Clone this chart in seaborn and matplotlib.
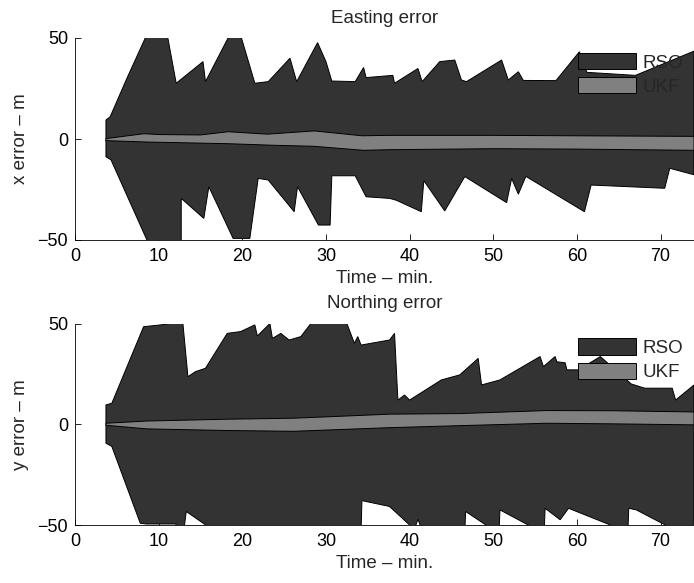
import numpy as np
import matplotlib
matplotlib.use("Agg")
import matplotlib.pyplot as plt
import seaborn as sns
from matplotlib.patches import Patch

# ---------------- data ----------------
# Easting (x) error
e_rso_up_t = [3.7, 4.2, 6.2, 8.4, 10.0, 11.1, 12.1, 15.3, 15.6, 18.3, 19.0, 19.9, 21.5, 23.1, 25.7, 26.5,
              29.0, 30.0, 30.7, 33.5, 34.5, 34.8, 38.0, 38.2, 41.0, 41.5, 43.6, 45.4, 46.2, 46.8, 51.0, 51.8,
              53.0, 53.6, 57.5, 60.3, 61.2, 67.0, 74.0]
e_rso_up_v = [9.4, 11.0, 30.0, 50.0, 56.0, 50.0, 27.6, 38.3, 28.4, 50.0, 52.0, 50.0, 27.6, 28.4, 40.0, 28.4,
              47.7, 38.3, 28.7, 28.4, 35.4, 30.4, 31.5, 27.6, 34.9, 28.4, 38.3, 39.1, 29.2, 28.4, 39.1, 29.2,
              33.3, 29.0, 28.9, 43.2, 33.0, 31.5, 43.5]
e_rso_lo_t = [3.7, 4.3, 8.6, 10.0, 12.7, 12.7, 15.4, 16.0, 18.9, 20.9, 21.9, 23.1, 26.2, 26.6, 29.1, 30.5,
              30.7, 33.5, 34.8, 37.6, 38.4, 41.4, 41.7, 44.2, 46.6, 51.6, 52.2, 53.0, 53.9, 60.9, 61.7, 70.5,
              71.1, 74.0]
e_rso_lo_v = [-8.8, -10.3, -50.0, -58.0, -55.0, -29.4, -39.3, -23.6, -49.2, -49.2, -19.5, -20.3, -36.0, -23.6,
              -42.6, -42.6, -18.2, -18.2, -28.6, -29.4, -30.3, -36.0, -20.6, -35.6, -18.6, -31.5, -19.5, -27.3,
              -18.5, -36.0, -22.8, -24.4, -14.5, -17.7]
e_ukf_up_t = [3.7, 8.2, 10.2, 15.0, 18.3, 23.0, 28.6, 34.3, 37.6, 50.0, 74.0]
e_ukf_up_v = [0.2, 2.6, 2.2, 2.0, 3.6, 2.4, 4.0, 1.6, 1.8, 1.8, 1.3]
e_ukf_lo_t = [3.7, 8.6, 18.1, 23.7, 28.5, 34.5, 37.6, 50.0, 60.0, 74.0]
e_ukf_lo_v = [-0.8, -1.5, -2.3, -3.1, -3.6, -5.6, -5.3, -4.8, -5.0, -5.6]

# Northing (y) error
n_rso_up_t = [3.7, 4.4, 8.2, 10.2, 11.4, 12.0, 12.9, 13.5, 14.4, 15.6, 18.2, 19.8, 21.5, 21.8, 23.3, 23.6,
              24.6, 25.6, 27.0, 28.2, 30.0, 32.5, 33.4, 33.8, 34.2, 37.6, 38.2, 38.6, 39.4, 40.0, 43.8, 46.0,
              48.2, 48.6, 50.8, 55.6, 56.0, 57.4, 57.6, 58.6, 58.8, 60.2, 62.8, 66.5, 68.1, 71.4, 71.8, 74.0]
n_rso_up_v = [9.6, 10.4, 48.4, 49.3, 50.0, 53.0, 50.0, 23.6, 26.1, 27.8, 45.1, 46.0, 49.3, 43.8, 50.0, 42.6,
              45.1, 41.8, 43.5, 50.0, 54.0, 50.0, 40.2, 43.5, 39.3, 41.8, 45.1, 12.0, 14.5, 12.0, 22.0, 24.5,
              32.7, 19.5, 22.0, 33.6, 28.6, 33.6, 31.0, 30.5, 27.0, 27.0, 33.6, 20.0, 17.9, 17.9, 12.0, 19.5]
n_rso_lo_t = [3.7, 4.4, 7.8, 8.5, 12.0, 13.0, 13.3, 15.8, 16.5, 34.2, 34.3, 37.6, 40.0, 40.5, 41.0, 41.5,
              46.6, 46.7, 49.3, 50.7, 50.8, 54.4, 56.1, 56.2, 58.0, 59.0, 64.3, 66.1, 66.2, 67.1, 70.8, 74.0]
n_rso_lo_v = [-9.4, -11.0, -49.1, -49.5, -49.5, -53.0, -43.3, -50.5, -53.0, -53.0, -37.9, -40.8, -50.0, -53.0,
              -47.1, -53.0, -53.0, -43.3, -50.5, -53.0, -42.5, -50.5, -53.0, -41.7, -47.4, -41.7, -50.5, -53.0,
              -41.7, -42.5, -50.5, -53.0]
n_ukf_t = [3.7, 8.6, 18.1, 26.1, 32.5, 37.6, 46.0, 56.4, 64.3, 74.0]
n_ukf_up_v = [0.5, 1.6, 2.5, 3.0, 4.1, 5.0, 5.3, 6.8, 6.7, 6.1]
n_ukf_lo_v = [-0.5, -2.3, -3.1, -3.5, -2.5, -1.7, -0.7, 0.5, 0.2, -0.3]

series_labels = ["RSO", "UKF"]
x_ticks = [0, 10, 20, 30, 40, 50, 60, 70]
y_ticks = [-50, 0, 50]
y_tick_labels = ["\u221250", "0", "50"]

# ---------------- style ----------------
sns.set_style("ticks")
plt.rcParams['font.family'] = ['Liberation Sans', 'DejaVu Sans']

RSO_C = "#333333"
UKF_C = "#808080"
FS = 13.5

fig = plt.figure(figsize=(6.94, 5.83), dpi=100)
ax1 = fig.add_axes([75 / 694, 1 - 240 / 583, 1 - 75 / 694, 202 / 583])
ax2 = fig.add_axes([75 / 694, 1 - 525 / 583, 1 - 75 / 694, 201.5 / 583])


def band(ax, ut, uv, lt, lv, color):
    xs = list(ut) + list(lt)[::-1]
    ys = list(uv) + list(lv)[::-1]
    ax.fill(xs, ys, facecolor=color, edgecolor="black", linewidth=0.7)


def style(ax, title, ylabel):
    ax.set_xlim(0, 74)
    ax.set_ylim(-50, 50)
    ax.set_xticks(x_ticks)
    ax.set_yticks(y_ticks)
    ax.set_yticklabels(y_tick_labels)
    ax.tick_params(direction="in", length=4, width=0.6, labelsize=13, colors="black")
    ax.tick_params(axis="x", pad=6)
    ax.tick_params(axis="y", pad=5)
    sns.despine(ax=ax)
    for s in ["left", "bottom"]:
        ax.spines[s].set_linewidth(0.6)
        ax.spines[s].set_color("black")
    ax.set_title(title, fontsize=FS, pad=11)
    ax.set_xlabel("Time \u2013 min.", fontsize=FS, labelpad=3)
    ax.set_ylabel(ylabel, fontsize=FS, labelpad=6)
    handles = [Patch(facecolor=RSO_C, edgecolor="black", linewidth=0.7),
               Patch(facecolor=UKF_C, edgecolor="black", linewidth=0.7)]
    ax.legend(handles, series_labels, loc="upper left", bbox_to_anchor=(503 / 619, 1 - 15 / 202),
              frameon=False, fontsize=FS, handlelength=3.1, handleheight=0.95, handletextpad=0.35,
              labelspacing=0.3, borderaxespad=0.0, borderpad=0.0)
    ax.set_facecolor("white")


band(ax1, e_rso_up_t, e_rso_up_v, e_rso_lo_t, e_rso_lo_v, RSO_C)
band(ax1, e_ukf_up_t, e_ukf_up_v, e_ukf_lo_t, e_ukf_lo_v, UKF_C)
style(ax1, "Easting error", "x error \u2013 m")

band(ax2, n_rso_up_t, n_rso_up_v, n_rso_lo_t, n_rso_lo_v, RSO_C)
band(ax2, n_ukf_t, n_ukf_up_v, n_ukf_t, n_ukf_lo_v, UKF_C)
style(ax2, "Northing error", "y error \u2013 m")

fig.savefig("out.png", dpi=100)
